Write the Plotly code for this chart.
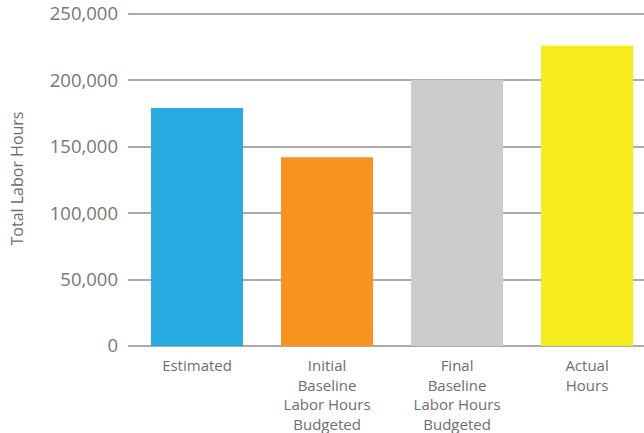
import plotly.graph_objects as go

categories = ["Estimated", "Initial<br>Baseline<br>Labor Hours<br>Budgeted",
              "Final<br>Baseline<br>Labor Hours<br>Budgeted", "Actual<br>Hours"]
values = [179000, 142000, 200300, 226000]
colors = ["#29ABE2", "#F7931E", "#CCCCCC", "#F5EB1F"]
y_ticks = [0, 50000, 100000, 150000, 200000, 250000]
y_ticktext = ["0", "50,000", "100,000", "150,000", "200,000", "250,000"]

fig = go.Figure(go.Bar(x=categories, y=values, marker=dict(color=colors, line=dict(width=0))))

fig.update_layout(
    width=644, height=433,
    margin=dict(l=128, r=0, t=11, b=87),
    paper_bgcolor="white", plot_bgcolor="white",
    bargap=0.292,
    showlegend=False,
    font=dict(family="Open Sans, sans-serif"),
)
fig.update_xaxes(
    range=[-0.531, 3.438],
    showgrid=False, zeroline=False, showline=False,
    tickfont=dict(size=15, color="#6e6e6e"),
    ticklabelstandoff=9,
    automargin=False,
)
fig.update_yaxes(
    range=[0, 252000],
    tickvals=y_ticks, ticktext=y_ticktext,
    showgrid=True, gridcolor="#aaaaaa", gridwidth=1.5,
    zeroline=True, zerolinecolor="#aaaaaa", zerolinewidth=1.5,
    showline=False,
    tickfont=dict(size=18.5, color="#7b7675"),
    ticklabelstandoff=9,
    automargin=False,
    title=dict(text="Total Labor Hours", font=dict(size=16, color="#6e6e6e"), standoff=22),
)

fig.write_html("out.html")
